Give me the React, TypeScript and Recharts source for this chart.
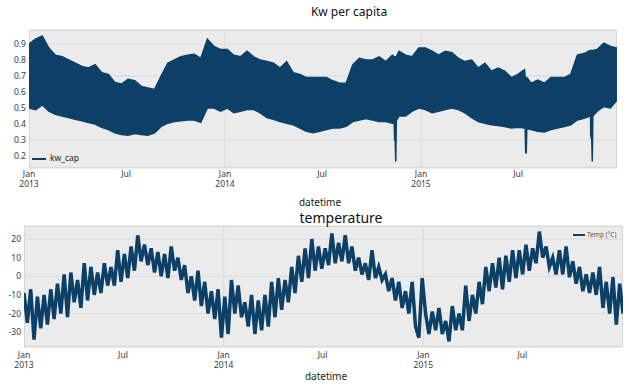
import React from 'react';
import { AreaChart, Area, LineChart, Line, XAxis, YAxis, CartesianGrid } from 'recharts';

// ---------- data ----------
const TOTAL_DAYS = 1095; // Jan 2013 .. Dec 2015

const xTickDays = [0, 181, 365, 546, 730, 911];
const xTickLabels = ['Jan\n2013', 'Jul', 'Jan\n2014', 'Jul', 'Jan\n2015', 'Jul'];
const janGridDays = [365, 730];

const kwTicks = [0.2, 0.3, 0.4, 0.5, 0.6, 0.7, 0.8, 0.9];
const tempTicks = [-30, -20, -10, 0, 10, 20];

// kw per capita: upper / lower envelope, 30 readings per year
const kwHigh2013 = [0.90, 0.93, 0.95, 0.875, 0.83, 0.82, 0.80, 0.78, 0.76, 0.75, 0.77, 0.72, 0.71, 0.66, 0.65, 0.68, 0.67, 0.635, 0.625, 0.615, 0.70, 0.78, 0.80, 0.82, 0.83, 0.835, 0.81, 0.93, 0.885, 0.865];
const kwLow2013 = [0.50, 0.49, 0.52, 0.48, 0.46, 0.45, 0.44, 0.43, 0.42, 0.41, 0.40, 0.38, 0.365, 0.345, 0.335, 0.33, 0.34, 0.335, 0.33, 0.345, 0.385, 0.405, 0.415, 0.42, 0.425, 0.425, 0.41, 0.50, 0.50, 0.48];
const kwHigh2014 = [0.865, 0.83, 0.82, 0.855, 0.82, 0.80, 0.79, 0.78, 0.75, 0.79, 0.72, 0.71, 0.69, 0.69, 0.69, 0.69, 0.67, 0.655, 0.655, 0.77, 0.81, 0.80, 0.80, 0.82, 0.79, 0.83, 0.855, 0.83, 0.82, 0.875];
const kwLow2014 = [0.50, 0.47, 0.48, 0.49, 0.49, 0.47, 0.44, 0.43, 0.415, 0.405, 0.395, 0.375, 0.355, 0.345, 0.355, 0.365, 0.375, 0.375, 0.385, 0.415, 0.425, 0.435, 0.425, 0.415, 0.415, 0.405, 0.45, 0.45, 0.48, 0.50];
const kwHigh2015 = [0.875, 0.855, 0.83, 0.855, 0.845, 0.81, 0.79, 0.80, 0.75, 0.78, 0.73, 0.75, 0.73, 0.69, 0.71, 0.74, 0.655, 0.675, 0.655, 0.69, 0.69, 0.69, 0.71, 0.83, 0.84, 0.855, 0.865, 0.905, 0.885, 0.875];
const kwLow2015 = [0.49, 0.47, 0.48, 0.49, 0.50, 0.49, 0.47, 0.44, 0.415, 0.405, 0.395, 0.39, 0.385, 0.375, 0.38, 0.375, 0.365, 0.355, 0.35, 0.365, 0.375, 0.385, 0.395, 0.425, 0.435, 0.45, 0.48, 0.51, 0.50, 0.55];

// short outages (dips)
const kwDipDays = [680, 681, 682, 683, 684, 924, 925, 926, 927, 1045, 1046, 1048, 1049, 1050];
const kwDipHighs = [0.82, 0.82, 0.82, 0.82, 0.82, 0.69, 0.69, 0.69, 0.69, 0.86, 0.86, 0.86, 0.86, 0.86];
const kwDipLows = [0.41, 0.30, 0.30, 0.165, 0.42, 0.37, 0.22, 0.22, 0.37, 0.45, 0.33, 0.30, 0.165, 0.45];

// temperature (°C): alternating highs and lows through each year
const temp2013 = [-9, -25, -7, -34, -11, -28, -10, -26, -7, -23, -4, -20, 1, -22, 2, -14, -2, -17, 7, -13, 5, -10, 2, -9, 7, -5, 5, -5, 14, -3, 12, -1, 16, 3, 22, 8, 17, 6, 15, 2, 13, 0, 12, -1, 16, 3, 10, -2, 6, -9, 0, -13, 3, -16, -3, -20, -8, -23, -7, -33];
const temp2014 = [-11, -31, -2, -20, -5, -22, -14, -27, -10, -31, -13, -29, -10, -27, -3, -22, -1, -18, -2, -14, 5, -9, 11, -3, 15, -1, 20, 3, 16, 4, 15, 6, 23, 7, 18, 8, 22, 7, 16, 3, 10, 1, 7, -2, 14, -1, 5, -2, 1, -8, -1, -13, -3, -17, -8, -20, -3, -27, -33, -1];
const temp2015 = [-20, -31, -19, -29, -17, -31, -24, -35, -16, -29, -20, -29, -5, -24, -10, -20, -3, -15, 5, -8, 7, -6, 10, -7, 11, -3, 14, -1, 14, 1, 17, 3, 15, 7, 24, 10, 16, 5, 10, 1, 14, 1, 16, -0.5, 8, -4, 5, -8, 1, -9, 2, -10, 5, -17, -3, -20, -0.5, -26, -4, -20];

// ---------- build tables ----------
const kwHigh = [...kwHigh2013, ...kwHigh2014, ...kwHigh2015];
const kwLow = [...kwLow2013, ...kwLow2014, ...kwLow2015];
const kwData = kwHigh
  .map((h, i) => ({ day: (i * TOTAL_DAYS) / (kwHigh.length - 1), range: [kwLow[i], h] }))
  .concat(kwDipDays.map((d, i) => ({ day: d, range: [kwDipLows[i], kwDipHighs[i]] })))
  .sort((a, b) => a.day - b.day);

const tempAll = [...temp2013, ...temp2014, ...temp2015];
const tempData = tempAll.map((t, i) => ({ day: (i * TOTAL_DAYS) / (tempAll.length - 1), temp: t }));

// ---------- styling ----------
const COLOR = '#0d4066';
const BG = '#ebebeb';
const GRID = '#dadada';
const FONT = '"Noto Sans", "Open Sans", sans-serif';
const TICK_COLOR = '#3a3a3a';

const labelFor = (v: number) => {
  const i = xTickDays.indexOf(v);
  return i >= 0 ? xTickLabels[i] : '';
};

const makeXTick = (d1: number, d2: number) => (props: any) => {
  const { x, y, payload } = props;
  const lines = labelFor(payload.value).split('\n');
  return (
    <text x={x} textAnchor="middle" fontSize={8.5} fontFamily={FONT} fill={TICK_COLOR}>
      {lines.map((l, i) => (
        <tspan key={i} x={x} y={y + (i === 0 ? d1 : d2)}>
          {l}
        </tspan>
      ))}
    </text>
  );
};

const abs = (left: number, top: number, extra: React.CSSProperties = {}): React.CSSProperties => ({
  position: 'absolute',
  left,
  top,
  ...extra,
});

export default function App() {
  return (
    <div style={{ position: 'absolute', left: 0, top: 0, width: 629, height: 387, background: '#fff', overflow: 'hidden', fontFamily: FONT }}>
      {/* plot backgrounds */}
      <div style={abs(29, 30, { width: 588, height: 138, background: BG, boxSizing: 'border-box', border: '1px solid #d6d6d6' })} />
      <div style={abs(24, 226, { width: 599, height: 121, background: BG, boxSizing: 'border-box', border: '1px solid #d6d6d6' })} />

      {/* top chart */}
      <div style={abs(0, 0)}>
        <AreaChart width={629} height={200} data={kwData} margin={{ top: 30, right: 12, bottom: 0, left: 0 }}>
          <CartesianGrid stroke={GRID} strokeWidth={1} verticalValues={janGridDays} fill="none" />
          <XAxis
            dataKey="day"
            type="number"
            domain={[0, TOTAL_DAYS]}
            ticks={xTickDays}
            interval={0}
            height={32}
            axisLine={false}
            tickLine={false}
            tickSize={0}
            tickMargin={0}
            tick={makeXTick(9, 19)}
            allowDataOverflow
          />
          <YAxis
            type="number"
            domain={[0.125, 0.9875]}
            ticks={kwTicks}
            width={29}
            axisLine={false}
            tickLine={false}
            tickSize={0}
            tickMargin={3}
            tickFormatter={(v: number) => v.toFixed(1)}
            tick={{ fontSize: 8.5, fill: TICK_COLOR, fontFamily: FONT }}
            allowDataOverflow
          />
          <Area
            type="linear"
            dataKey="range"
            stroke={COLOR}
            strokeWidth={1.5}
            fill={COLOR}
            fillOpacity={1}
            dot={false}
            activeDot={false}
            isAnimationActive={false}
          />
        </AreaChart>
      </div>

      {/* bottom chart */}
      <div style={abs(0, 200)}>
        <LineChart width={629} height={187} data={tempData} margin={{ top: 26, right: 6, bottom: 0, left: 0 }}>
          <CartesianGrid stroke={GRID} strokeWidth={1} verticalValues={janGridDays} fill="none" />
          <XAxis
            dataKey="day"
            type="number"
            domain={[0, TOTAL_DAYS]}
            ticks={xTickDays}
            interval={0}
            height={40}
            axisLine={false}
            tickLine={false}
            tickSize={0}
            tickMargin={0}
            tick={makeXTick(11, 21)}
            allowDataOverflow
          />
          <YAxis
            type="number"
            domain={[-38, 27]}
            ticks={tempTicks}
            width={24}
            axisLine={false}
            tickLine={false}
            tickSize={0}
            tickMargin={3}
            tick={{ fontSize: 8.5, fill: TICK_COLOR, fontFamily: FONT }}
            allowDataOverflow
          />
          <Line
            type="linear"
            dataKey="temp"
            stroke={COLOR}
            strokeWidth={3.5}
            strokeLinejoin="miter"
            dot={false}
            activeDot={false}
            isAnimationActive={false}
          />
        </LineChart>
      </div>

      {/* titles & axis labels */}
      <div style={abs(290, 4, { width: 118, textAlign: 'center', fontSize: 12, color: '#111', lineHeight: '16px' })}>Kw per capita</div>
      <div style={abs(272, 196, { width: 96, textAlign: 'center', fontSize: 10, color: '#222', lineHeight: '12px' })}>datetime</div>
      <div style={abs(281, 210, { width: 120, textAlign: 'center', fontSize: 14, color: '#111', lineHeight: '16px' })}>temperature</div>
      <div style={abs(276, 369, { width: 100, textAlign: 'center', fontSize: 10, color: '#222', lineHeight: '14px' })}>datetime</div>

      {/* legends */}
      <div style={abs(32, 157.5, { width: 14, height: 2, background: COLOR })} />
      <div style={abs(50, 152, { fontSize: 8.5, color: '#222', lineHeight: '12px' })}>kw_cap</div>
      <div style={abs(573, 233.5, { width: 12, height: 2, background: COLOR })} />
      <div style={abs(587, 230, { fontSize: 6.5, color: '#555', lineHeight: '9px', whiteSpace: 'nowrap' })}>Temp (°C)</div>
    </div>
  );
}
